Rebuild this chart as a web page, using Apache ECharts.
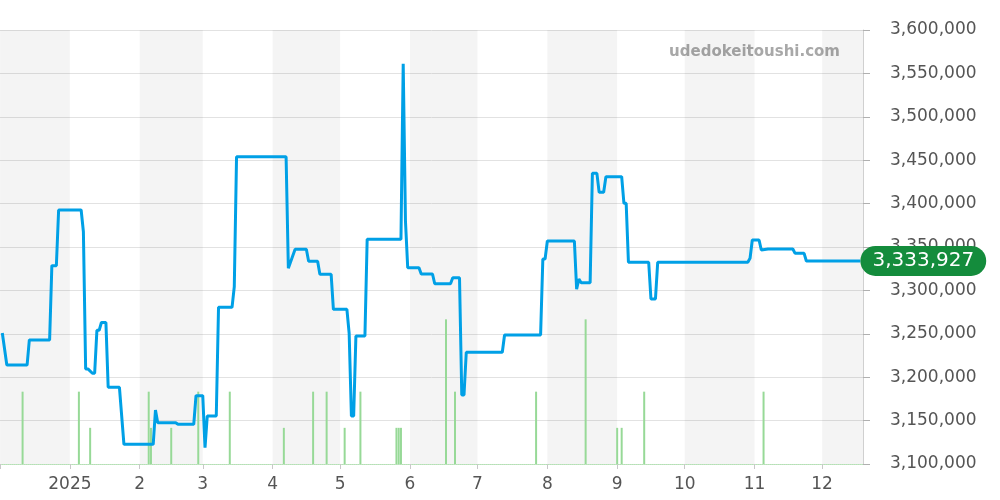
<!DOCTYPE html>
<html>
<head>
<meta charset="utf-8">
<script src="https://cdn.jsdelivr.net/npm/echarts@6/dist/echarts.min.js"></script>
<style>
  html, body { margin: 0; padding: 0; background: #fff; }
  #chart { width: 1000px; height: 500px; }
</style>
</head>
<body>
<div id="chart"></div>
<script>
// price history (JPY)
const priceDates = [
  '2024-12-02', '2024-12-04', '2024-12-13', '2024-12-14', '2024-12-23', '2024-12-24',
  '2024-12-26', '2024-12-27', '2025-01-06', '2025-01-07', '2025-01-08', '2025-01-09',
  '2025-01-11', '2025-01-12', '2025-01-13', '2025-01-14', '2025-01-15', '2025-01-17',
  '2025-01-18', '2025-01-23', '2025-01-25', '2025-02-07', '2025-02-08', '2025-02-09',
  '2025-02-17', '2025-02-18', '2025-02-25', '2025-02-26', '2025-03-01', '2025-03-02',
  '2025-03-03', '2025-03-07', '2025-03-08', '2025-03-14', '2025-03-15', '2025-03-16',
  '2025-04-07', '2025-04-08', '2025-04-11', '2025-04-16', '2025-04-17', '2025-04-21',
  '2025-04-22', '2025-04-27', '2025-04-28', '2025-05-04', '2025-05-05', '2025-05-06',
  '2025-05-07', '2025-05-08', '2025-05-12', '2025-05-13', '2025-05-28', '2025-05-29',
  '2025-05-30', '2025-05-31', '2025-06-05', '2025-06-06', '2025-06-11', '2025-06-12',
  '2025-06-19', '2025-06-20', '2025-06-23', '2025-06-24', '2025-06-25', '2025-06-26',
  '2025-07-12', '2025-07-13', '2025-07-29', '2025-07-30', '2025-07-31', '2025-08-01',
  '2025-08-13', '2025-08-14', '2025-08-15', '2025-08-16', '2025-08-20', '2025-08-21',
  '2025-08-23', '2025-08-24', '2025-08-26', '2025-08-27', '2025-09-03', '2025-09-04',
  '2025-09-05', '2025-09-06', '2025-09-15', '2025-09-16', '2025-09-18', '2025-09-19',
  '2025-10-29', '2025-10-30', '2025-10-31', '2025-11-03', '2025-11-04', '2025-11-07',
  '2025-11-18', '2025-11-19', '2025-11-23', '2025-11-24', '2025-12-18'
];
const priceValues = [
  3251000, 3214000, 3214000, 3243000, 3243000, 3328500,
  3328500, 3392600, 3392600, 3367600, 3209500, 3209500,
  3204500, 3204500, 3254000, 3254000, 3263000, 3263000,
  3188400, 3188400, 3122700, 3122700, 3162200, 3147600,
  3147600, 3145700, 3145700, 3178700, 3178700, 3118800,
  3155300, 3155300, 3280500, 3280500, 3304300, 3454000,
  3454000, 3325500, 3347300, 3347300, 3333500, 3333500,
  3318500, 3318500, 3278200, 3278200, 3250600, 3155300,
  3155300, 3247500, 3247500, 3358900, 3358900, 3561000,
  3380000, 3326200, 3326200, 3318900, 3318900, 3307700,
  3307700, 3314600, 3314600, 3179500, 3179500, 3228700,
  3228700, 3248600, 3248600, 3336200, 3336200, 3356900,
  3356900, 3301300, 3313100, 3308800, 3308800, 3434900,
  3434900, 3413000, 3413000, 3431000, 3431000, 3400300,
  3400300, 3332400, 3332400, 3290100, 3290100, 3332400,
  3332400, 3337000, 3358100, 3358100, 3346500, 3347700,
  3347700, 3342700, 3342700, 3333927, 3333927
];

// trade counts
const volumeDates = [
  '2024-12-11', '2025-01-05', '2025-01-10', '2025-02-05', '2025-02-06', '2025-02-15',
  '2025-02-27', '2025-03-13', '2025-04-06', '2025-04-19', '2025-04-25', '2025-05-03',
  '2025-05-10', '2025-05-26', '2025-05-27', '2025-05-28', '2025-06-17', '2025-06-21',
  '2025-07-27', '2025-08-18', '2025-09-01', '2025-09-03', '2025-09-13', '2025-11-05'
];
const volumeValues = [
  2, 2, 1, 2, 1, 1,
  2, 2, 1, 2, 2, 1,
  2, 1, 1, 1, 4, 2,
  2, 4, 1, 1, 2, 2
];

// alternating shaded months
const bandMonths = [
  ['2024-12-01', '2025-01-01'], ['2025-02-01', '2025-03-01'], ['2025-04-01', '2025-05-01'],
  ['2025-06-01', '2025-07-01'], ['2025-08-01', '2025-09-01'], ['2025-10-01', '2025-11-01'],
  ['2025-12-01', '2026-01-01']
];

const yTicks = { min: 3100000, max: 3600000, step: 50000 };
const volumeMax = 12;

const xMin = new Date(2024, 11, 1, 10).getTime();
const xMax = new Date(2025, 11, 18, 17).getTime();

const chart = echarts.init(document.getElementById('chart'));
const fmt = v => v.toLocaleString('en-US');

const option = {
  animation: false,
  textStyle: { fontFamily: 'DejaVu Sans' },
  grid: { left: 0, right: 137, top: 30, bottom: 36, outerBoundsMode: 'none', containLabel: false },
  graphic: [
    {
      type: 'text',
      right: 160,
      top: 45,
      style: { text: 'udedokeitoushi.com', fill: '#a8a8a8', font: 'bold 15px "DejaVu Sans"' }
    }
  ],
  xAxis: {
    type: 'time',
    min: xMin,
    max: xMax,
    splitNumber: 12,
    minInterval: 28 * 86400000,
    maxInterval: 31 * 86400000,
    axisLine: { show: true, lineStyle: { color: '#b3e2b3', type: 'dotted', width: 1 } },
    axisTick: { show: true, length: 5, lineStyle: { color: '#c8c8c8' } },
    splitLine: { show: false },
    axisLabel: {
      color: '#555',
      fontSize: 17,
      margin: 12,
      showMinLabel: false,
      showMaxLabel: false,
      formatter: function (value) {
        if (value < xMin) return '';
        const d = new Date(value);
        return d.getMonth() === 0 ? String(d.getFullYear()) : String(d.getMonth() + 1);
      }
    }
  },
  yAxis: [
    {
      type: 'value',
      position: 'right',
      min: yTicks.min,
      max: yTicks.max,
      interval: yTicks.step,
      axisLine: { show: true, lineStyle: { color: '#d0d0d0' } },
      axisTick: { show: true, length: 7, lineStyle: { color: '#b0b0b0' } },
      splitLine: { show: true, lineStyle: { color: '#e2e2e2' } },
      axisLabel: { color: '#555', fontSize: 17, margin: 27, formatter: v => fmt(v) }
    },
    {
      type: 'value',
      min: 0,
      max: volumeMax,
      show: false
    }
  ],
  series: [
    {
      name: 'volume',
      type: 'bar',
      yAxisIndex: 1,
      barWidth: 2,
      z: 3,
      itemStyle: { color: '#97d997' },
      data: volumeDates.map((d, i) => [d, volumeValues[i]]),
      markArea: {
        silent: true,
        itemStyle: { color: 'rgba(0,0,0,0.045)' },
        data: bandMonths.map(b => [{ xAxis: b[0] }, { xAxis: b[1] }])
      }
    },
    {
      name: 'price',
      type: 'line',
      z: 5,
      showSymbol: false,
      symbol: 'none',
      lineStyle: { color: '#00a0e6', width: 3 },
      data: priceDates.map((d, i) => [d, priceValues[i]]),
      endLabel: {
        show: true,
        distance: 0,
        formatter: p => fmt(p.value[1]),
        color: '#fff',
        fontSize: 20,
        lineHeight: 24,
        backgroundColor: '#148c3c',
        borderRadius: 15,
        padding: [3, 12]
      }
    }
  ]
};

chart.setOption(option);
</script>
</body>
</html>
